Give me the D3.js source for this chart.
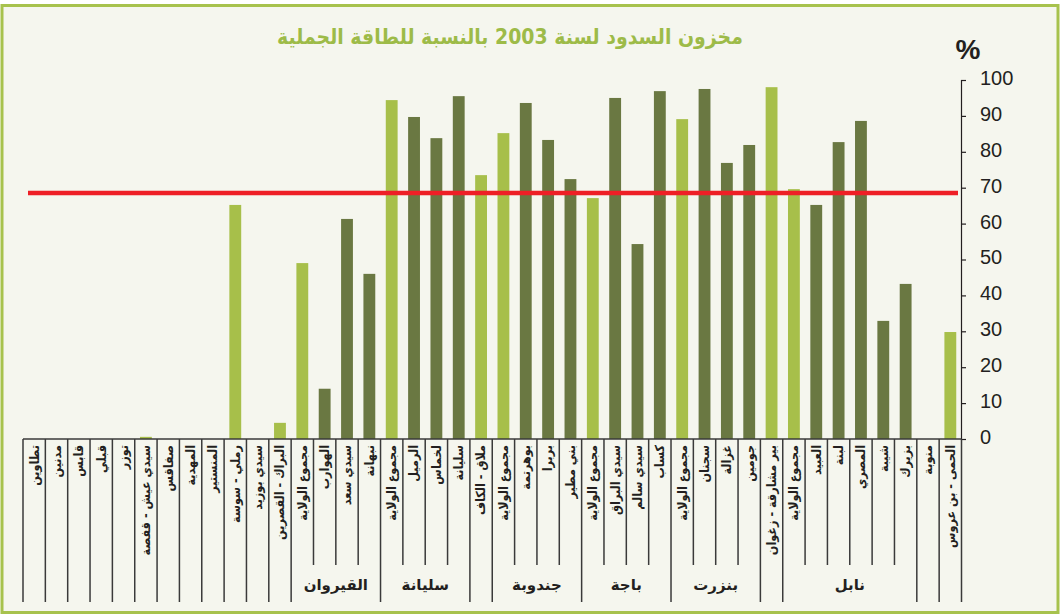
<!DOCTYPE html>
<meta charset="utf-8">
<style>
  body { margin: 0; background: #fff; }
  .cat { font: bold 12.5px "DejaVu Sans Condensed", "DejaVu Sans", sans-serif; fill: #231f20; }
  .grp { font: bold 15px "DejaVu Sans", sans-serif; fill: #231f20; }
  .title { font: bold 21px "DejaVu Sans Condensed", "DejaVu Sans", sans-serif; fill: #9dbb48; }
  .yaxis text { font: 20px "Liberation Sans", Arial, sans-serif; fill: #231f20; }
  .yaxis path, .yaxis line { stroke: #231f20; stroke-width: 1.2px; }
  .sep { stroke: #3a3a3a; stroke-width: 1.5px; }
</style>
<svg width="1062" height="615"></svg>
<script src="https://d3js.org/d3.v7.min.js"></script>
<script>

  // categories, left to right as drawn
  var categories = ["تطاوين", "مدنين", "قابس", "قبلي", "توزر", "سيدي عيش - قفصة", "صفاقس", "المهدية",
    "المنستير", "رملي - سوسة", "سيدي بوزيد", "البراك - القصرين",
    "مجموع الولاية", "الهوارب", "سيدي سعد", "نبهانة",
    "مجموع الولاية", "الرميل", "لخماس", "سليانة",
    "ملاق - الكاف",
    "مجموع الولاية", "بوهرتمة", "بربرا", "بني مطير",
    "مجموع الولاية", "سيدي البراق", "سيدي سالم", "كساب",
    "مجموع الولاية", "سجنان", "غزالة", "جومين",
    "بير مشارقة - زغوان",
    "مجموع الولاية", "العبيد", "لبنة", "المصري", "شيبة", "بزيرك",
    "منوبة", "الحمى - بن عروس"];

  // % filled
  var values = [0, 0, 0, 0, 0, 0.6, 0, 0, 0, 65.2, 0, 4.5,
    49, 14, 61.3, 46,
    94.4, 89.7, 83.8, 95.5,
    73.5,
    85.2, 93.6, 83.3, 72.4,
    67.1, 95, 54.3, 96.9,
    89.1, 97.5, 76.9, 81.9,
    98,
    69.6, 65.2, 82.7, 88.6, 32.9, 43.2,
    0, 29.8];

  // w = whole governorate, b = single dam
  var kinds = ["w", "w", "w", "w", "w", "w", "w", "w", "w", "w", "w", "w",
    "w", "b", "b", "b",
    "w", "b", "b", "b",
    "w",
    "w", "b", "b", "b",
    "w", "b", "b", "b",
    "w", "b", "b", "b",
    "w",
    "w", "b", "b", "b", "b", "b",
    "w", "w"];

  var groupNames = ["القيروان", "سليانة", "جندوبة", "باجة", "بنزرت", "نابل"];
  var groupFrom = [12, 16, 21, 25, 29, 34];
  var groupTo = [15, 19, 24, 28, 32, 39];

  var yTicks = [0, 10, 20, 30, 40, 50, 60, 70, 80, 90, 100];
  var average = 68.5;
  var title = "مخزون السدود لسنة 2003 بالنسبة للطاقة الجملية";

  var svg = d3.select("svg");

  // frame
  svg.append("rect")
    .attr("x", 2).attr("y", 5.5).attr("width", 1056).attr("height", 607)
    .attr("fill", "#f5f6ee").attr("stroke", "#a7c24d").attr("stroke-width", 3);

  var idx = d3.range(categories.length);
  var cell = d3.scaleBand().domain(idx).range([23, 961.5]);
  var x = cell.copy().paddingInner(0.47).paddingOuter(0.235);
  var y = d3.scaleLinear().domain([0, 100]).range([439, 80]);

  var colour = { w: "#a7bf4a", b: "#6a7842" };

  svg.append("g").selectAll("rect")
    .data(idx)
    .join("rect")
    .attr("x", function (i) { return x(i); })
    .attr("width", x.bandwidth())
    .attr("y", function (i) { return y(values[i]); })
    .attr("height", function (i) { return y(0) - y(values[i]); })
    .attr("fill", function (i) { return colour[kinds[i]]; });

  // average line
  svg.append("line")
    .attr("x1", 28).attr("x2", 958)
    .attr("y1", y(average)).attr("y2", y(average))
    .attr("stroke", "#ee1f26").attr("stroke-width", 4.5);

  // y axis on the right
  var yAxis = svg.append("g")
    .attr("class", "yaxis")
    .attr("transform", "translate(961,0)")
    .call(d3.axisRight(y).tickValues(yTicks).tickSize(5).tickPadding(14).tickSizeOuter(5));
  yAxis.selectAll("text").attr("dy", "0.22em");

  svg.append("text")
    .attr("x", 968).attr("y", 59)
    .attr("text-anchor", "middle")
    .style("font", "bold 28px 'Liberation Sans', Arial, sans-serif")
    .style("fill", "#231f20")
    .text("%");

  svg.append("text")
    .attr("class", "title")
    .attr("x", 510).attr("y", 44)
    .attr("text-anchor", "middle")
    .text(title);

  // label table
  var table = svg.append("g");
  table.append("line").attr("class", "sep")
    .attr("x1", 23).attr("x2", 961.5).attr("y1", 439).attr("y2", 439);

  function inside(b) {
    for (var k = 0; k < groupFrom.length; k++) {
      if (b > groupFrom[k] && b <= groupTo[k]) return true;
    }
    return false;
  }

  var bounds = d3.range(categories.length + 1);
  table.selectAll("line.v")
    .data(bounds)
    .join("line")
    .attr("class", "sep v")
    .attr("x1", function (b) { return b < categories.length ? cell(b) : cell.range()[1]; })
    .attr("x2", function (b) { return b < categories.length ? cell(b) : cell.range()[1]; })
    .attr("y1", 439)
    .attr("y2", function (b) { return inside(b) ? 565 : 602; });

  table.selectAll("text.cat")
    .data(idx)
    .join("text")
    .attr("class", "cat")
    .attr("text-anchor", "end")
    .attr("transform", function (i) {
      return "translate(" + (cell(i) + cell.bandwidth() / 2) + ",445) rotate(-90)";
    })
    .attr("dy", "0.35em")
    .text(function (i) { return categories[i]; });

  table.selectAll("text.grp")
    .data(groupNames)
    .join("text")
    .attr("class", "grp")
    .attr("text-anchor", "middle")
    .attr("x", function (d, k) { return (cell(groupFrom[k]) + cell(groupTo[k]) + cell.bandwidth()) / 2; })
    .attr("y", 590)
    .text(function (d) { return d; });

</script>
